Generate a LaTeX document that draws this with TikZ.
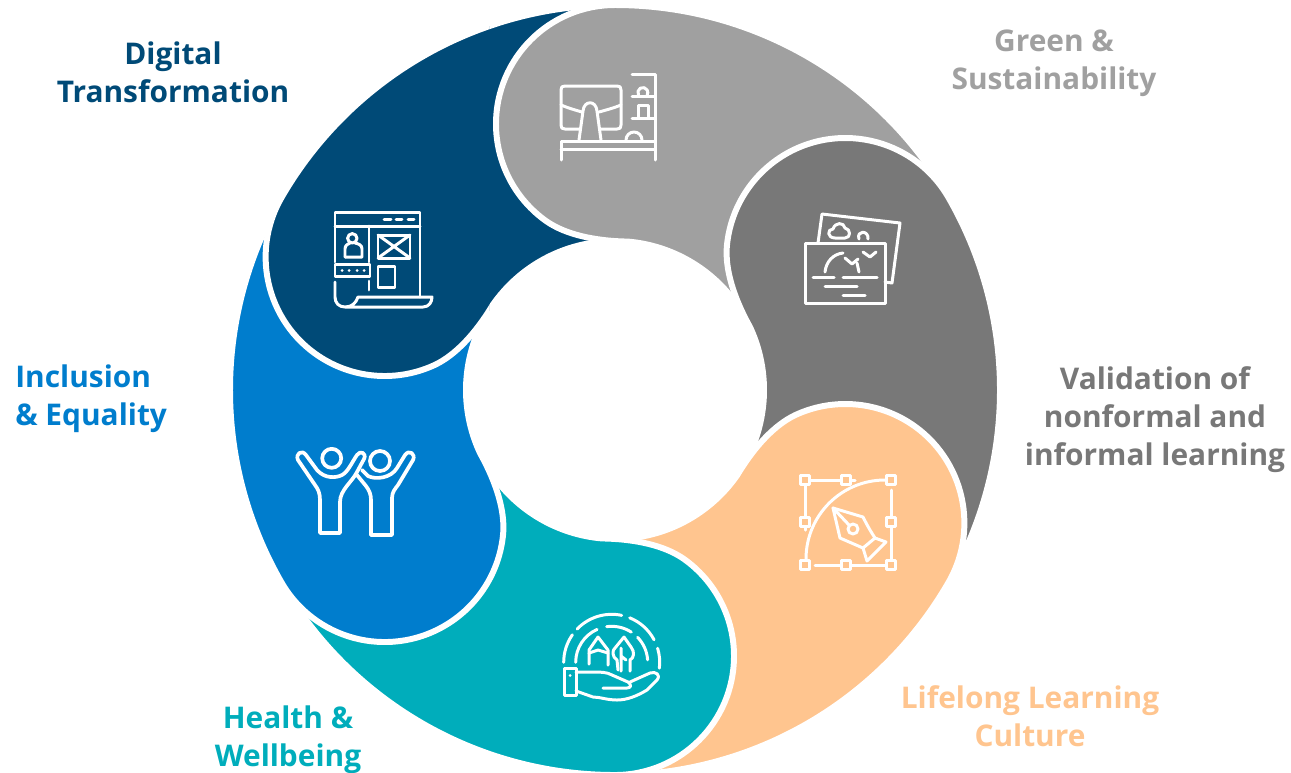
\documentclass[tikz,border=0pt]{standalone}
\usepackage{fontspec}
\setmainfont{Open Sans}
\definecolor{digitalblue}{RGB}{0,74,119}
\definecolor{greengray}{RGB}{160,160,160}
\definecolor{validgray}{RGB}{120,120,120}
\definecolor{lifeorange}{RGB}{255,197,143}
\definecolor{healthteal}{RGB}{0,173,187}
\definecolor{inclblue}{RGB}{0,125,205}
\tikzset{
	petalline/.style={draw=white,line width=3.4pt,line join=round},
	icon/.style={draw=white,line width=1.7pt,line cap=round,line join=round},
	thickicon/.style={icon,line width=2.1pt},
	headline/.style={font=\bfseries\fontsize{17}{21.7}\selectfont,align=center,inner sep=0pt}
}
\newcommand{\petal}[2]{\draw[petalline,fill=#2,shift={(615,390)},rotate=#1]
	(-31:385) arc[start angle=-31,end angle=-90,radius=385]
	arc[start angle=270,end angle=125,radius=119]
	.. controls (-50,-156) and (-22,-149) .. (-85:149)
	arc[start angle=-85,end angle=-35,radius=149] -- cycle;}

\begin{document}
\begin{tikzpicture}[x=0.02cm,y=-0.02cm]
	\useasboundingbox (0,0) rectangle (1291,772);
	% the ring, each petal over the tail of the one before
	\petal{60}{digitalblue}
	\petal{0}{greengray}
	\petal{-60}{validgray}
	\petal{-120}{lifeorange}
	\petal{-180}{healthteal}
	\petal{-240}{inclblue}
	\begin{scope}
		\clip (0,0) rectangle (489,772);
		\petal{60}{digitalblue}
	\end{scope}

	% labels
	\node[headline,text=digitalblue] (digital) at (173,72) {Digital\\Transformation};
	\node[headline,text=greengray] (green) at (1054,63) {Green \&\\Sustainability};
	\node[headline,text=validgray] (valid) at (1155,420) {Validation of\\nonformal and\\informal learning};
	\node[headline,text=lifeorange] (life) at (1030,716) {Lifelong Learning\\Culture};
	\node[headline,text=healthteal] (health) at (288,740) {Health \&\\Wellbeing};
	\node[headline,text=inclblue,align=left,anchor=west] (incl) at (15,399) {Inclusion\\\& Equality};

	% icon digital
	\draw[icon] (335,262)--(335,212)--(420,212)--(420,297);
	\draw[icon] (335,226)--(420,226);
	\draw[icon] (384,219)--(391,219) (396,219)--(402,219) (408,219)--(414,219);
	\draw[icon] (369,226)--(369,262) (369,281)--(369,290);
	\draw[icon] (352.3,238.3) circle[radius=4.7];
	\draw[icon] (345,257)--(345,249) .. controls (345,245) and (348,244) .. (350,243);
	\draw[icon] (355,243) .. controls (359,244) and (362,245) .. (362,249)--(362,257)--(345,257);
	\draw[icon] (378,235) rectangle (410,258);
	\draw[icon] (378,235)--(410,258) (378,258)--(410,235);
	\draw[icon] (378,266) rectangle (395,287);
	\draw[icon] (335,264) rectangle (370,276);
	\draw[icon] (342,270)--(342.2,270) (349,270)--(349.2,270) (357,270)--(357.2,270) (364,270)--(364.2,270);
	\draw[icon] (335,282)--(335,297) .. controls (335,303) and (339,307) .. (345,307)--(423,307)
		.. controls (429,307) and (432,302) .. (432,297)--(358,297) .. controls (356,303) and (352,307) .. (345,307);

	% icon green
	\draw[icon] (580,129)--(565,129) .. controls (562,129) and (561,128) .. (561,125)--(561,90)
		.. controls (561,87) and (562,86) .. (565,86)--(617,86) .. controls (620,86) and (621,87) .. (621,90)
		--(621,125) .. controls (621,128) and (620,129) .. (617,129)--(601,129);
	\draw[icon] (561,105) .. controls (568,108) and (575,110) .. (582,112);
	\draw[icon] (599,112) .. controls (606,110) and (614,108) .. (621,105);
	\draw[icon] (579,140)--(583,111) .. controls (584,100) and (596,100) .. (597,111)--(601,140);
	\draw[icon] (561,160)--(561,141)--(655,141);
	\draw[icon] (561,149)--(655,149);
	\draw[icon] (632,74)--(655,74)--(655,160);
	\draw[icon] (626,140) arc[start angle=180,end angle=360,radius=8];
	\draw[icon] (632,96)--(655,96) (632,118)--(655,118);
	\draw[icon] (638.5,95) arc[start angle=150,end angle=390,radius=5];
	\draw[icon] (638,118)--(638,105)--(648,105)--(648,118);

	% icon validation
	\draw[icon] (805,243) rectangle (885,303);
	\draw[icon] (818,243)--(822,214)--(900,223)--(892,283)--(885,282);
	\draw[icon] (835,238) .. controls (827,238) and (827,229) .. (833,229)
		.. controls (835,222) and (844,222) .. (845,228) .. controls (851,229) and (851,238) .. (845,238)--cycle;
	\draw[icon] (859,239) .. controls (856,230) and (869,230) .. (868,239);
	\draw[icon] (825,272) .. controls (826,262) and (833,254) .. (843,253);
	\draw[icon] (857,263)--(859,272);
	\draw[icon] (845,258)--(852,264)--(858,259) (863,252)--(870,257)--(876,252);
	\draw[icon] (813,277)--(834,277) (843,277)--(877,277) (825,286)--(857,286) (843,295)--(865,295);

	% icon lifelong
	\foreach \hx/\hy in {805/480,846/480,891/480,805/522,891/522,805/565,846/565,891/565}
		\draw[icon] (\hx-4.5,\hy-4.5) rectangle (\hx+4.5,\hy+4.5);
	\draw[icon] (810,480)--(841,480) (851,480)--(855,480) (805,485)--(805,517) (805,527)--(805,530);
	\draw[icon] (891,490)--(891,517) (891,527)--(891,560) (815,565)--(841,565) (851,565)--(886,565);
	\draw[icon] (806,559) arc[start angle=180,end angle=270,radius=79];
	\draw[icon] (833,508)--(863,517) .. controls (867,525) and (871,532) .. (875,538);
	\draw[icon] (833,508)--(840,538)--(863,548);
	\draw[icon] (863,548)--(875,538)--(886,542)--(867,561)--cycle;
	\draw[icon] (833,508)--(849,525);
	\draw[icon] (853,529) circle[radius=5];

	% icon health
	\draw[icon] (564,668) rectangle (576,695);
	\draw[icon] (570,675)--(570.2,675);
	\draw[icon] (576,672)--(593,672) .. controls (600,672) and (607,672) .. (612,675)--(628,682)
		.. controls (632,685) and (631,688) .. (627,688)--(603,688);
	\draw[icon] (630,682)--(650,673) .. controls (656,671) and (661,675) .. (657,680)--(647,690)
		.. controls (637,696) and (627,700) .. (617,700) .. controls (607,700) and (600,697) .. (593,697)--(576,691);
	\draw[icon] (589,664)--(589,650)--(598,637)--(608,650)--(608,665);
	\draw[icon] (589,653)--(598,650)--(608,653);
	\draw[icon] (618,670)--(617,660) .. controls (612,657) and (612,650) .. (615,648)--(624,637)--(631,647)
		.. controls (635,652) and (634,658) .. (630,660)--(630,671);
	\draw[icon] (621,671)--(621,648) (621,656)--(626,660);
	\foreach \sa/\ea in {180/215,224/282,292/332,343/367}
		\draw[icon] (611.7,662.3) ++(\sa:48) arc[start angle=\sa,end angle=\ea,radius=48];
	\foreach \sa/\ea in {180/246,262/303,316/356}
		\draw[icon] (611.7,662.3) ++(\sa:36) arc[start angle=\sa,end angle=\ea,radius=36];

	% icon inclusion
	\draw[thickicon] (331.7,458.3) circle[radius=9.5];
	\draw[thickicon] (380,461) circle[radius=10];
	\draw[thickicon] (320,533)--(320,500) .. controls (320,493) and (318,489) .. (315,485)--(298,460)
		.. controls (295,454) and (302,449) .. (306,455)--(317,470) .. controls (325,479) and (336,478) .. (342,475)
		.. controls (348,472) and (352,462) .. (357,455) .. controls (360,450) and (367,453) .. (364,459)--(357,472)
		.. controls (352,482) and (340,490) .. (340,502)--(340,533)--cycle;
	\draw[thickicon] (371,535)--(392,535)--(392,498) .. controls (392,492) and (395,489) .. (398,485)--(413,460)
		.. controls (416,454) and (409,449) .. (405,455)--(397,468) .. controls (391,478) and (376,480) .. (368,476)
		--(362,470);
	\draw[thickicon] (357,475)--(366,486) .. controls (369,490) and (371,494) .. (371,500)--(371,535);
\end{tikzpicture}
\end{document}
